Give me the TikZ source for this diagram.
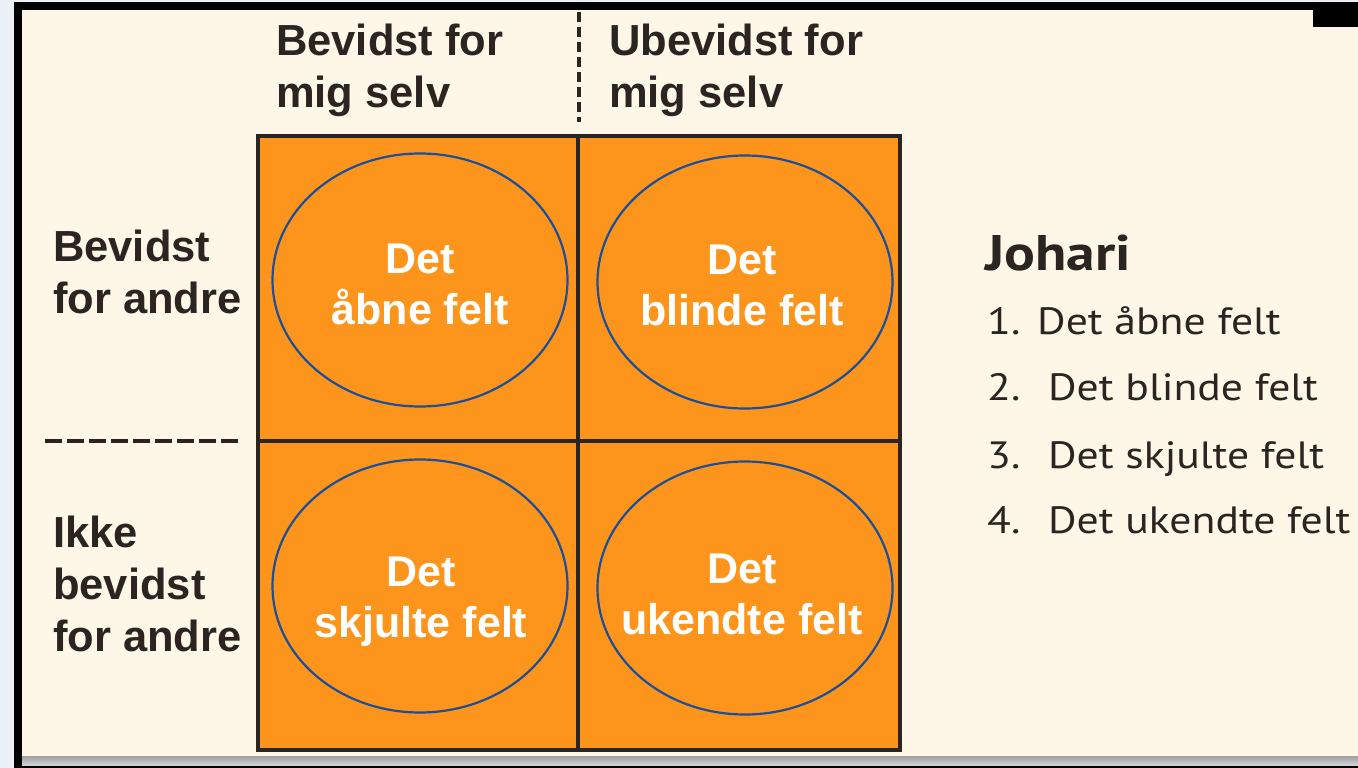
\documentclass[tikz,border=0pt]{standalone}
\usepackage{fontspec}
\setmainfont{Liberation Sans}
\newfontfamily\listfont[FakeStretch=1.15]{PT Sans}
\usetikzlibrary{positioning,shapes.geometric}
\definecolor{creme}{HTML}{FEF6E6}
\definecolor{felt}{HTML}{FD941C}
\definecolor{streg}{HTML}{2A2521}
\definecolor{ring}{HTML}{1D4F98}
\definecolor{kant}{HTML}{EAF0F5}

\begin{document}
\begin{tikzpicture}[x=1pt,y=-1pt,
	cell/.style={draw=streg, fill=felt, line width=4pt, rectangle, inner sep=0, outer sep=0},
	ring/.style={draw=ring, line width=2.2pt, ellipse, inner sep=0, minimum width=295pt, minimum height=253pt},
	felttekst/.style={text=white, align=center, text depth=0pt, font=\bfseries\fontsize{43}{51}\selectfont},
	overskrift/.style={text=streg, align=left, inner sep=0, font=\bfseries\fontsize{43.5}{52}\selectfont},
	liste/.style={text=streg, inner sep=0, font=\listfont\fontsize{38}{44}\selectfont}]
		% ramme
		\useasboundingbox (0,0) rectangle (1358,768);
		\fill[kant] (0,0) rectangle (1358,768);
		\fill[black] (14,2) rectangle (1358,768);
		\fill[black] (1313,2) rectangle (1358,27);
		\fill[creme] (22,10) rectangle (1313,756);
		\fill[creme] (1313,27) rectangle (1358,756);
		\shade[top color=gray!75, bottom color=gray!35] (22,756) rectangle (1358,765);
		
		% felter
		\node[cell, minimum width=320pt, minimum height=305pt] (aabnecelle) at (418,288.5) {};
		\node[cell, minimum width=322pt, minimum height=305pt, right=0pt of aabnecelle] (blindecelle) {};
		\node[cell, minimum width=320pt, minimum height=309pt, below=0pt of aabnecelle] (skjultecelle) {};
		\node[cell, minimum width=322pt, minimum height=309pt, right=0pt of skjultecelle] (ukendtecelle) {};
		
		\node[ring] (aabnering) at (420,280) {};
		\node[ring] (blindering) at (745,282) {};
		\node[ring] (skjultering) at (420,586) {};
		\node[ring] (ukendtering) at (745,588) {};
		
		\node[felttekst] (aabne) at (420,284) {Det\\åbne felt};
		\node[felttekst] (blinde) at (742,285) {Det\\blinde felt};
		\node[felttekst] (skjulte) at (421,597) {Det\\skjulte felt};
		\node[felttekst] (ukendte) at (742,594) {Det\\ukendte felt};
		
		% akser
		\node[overskrift, anchor=north west] (bevidstmig) at (276,24) {Bevidst for\\mig selv};
		\node[overskrift, anchor=north west] (ubevidstmig) at (609,24) {Ubevidst for\\mig selv};
		\node[overskrift, anchor=north west] (bevidstandre) at (53,230) {Bevidst\\for andre};
		\node[overskrift, anchor=north west] (ikkeandre) at (53,516) {Ikke\\bevidst\\for andre};
		
		\coordinate (lodretop) at (579,12);
		\coordinate (lodretbund) at (579,122);
		\coordinate (vandretvenstre) at (45,441);
		\coordinate (vandrethoejre) at (239,441);
		\draw[streg, line width=4pt, dash pattern=on 10pt off 5pt] (lodretop) -- (lodretbund);
		\draw[streg, line width=4pt, dash pattern=on 16.5pt off 5.5pt] (vandretvenstre) -- (vandrethoejre);
		
		% liste
		\node[liste, anchor=base west, font=\listfont\bfseries\fontsize{50}{56}\selectfont] (johari) at (985,270) {Johari};
		\node[liste, anchor=base west] (punkt1) at (987,334) {\makebox[50pt][l]{1.}Det åbne felt};
		\node[liste, anchor=base west] (punkt2) at (987,400) {\makebox[61pt][l]{2.}Det blinde felt};
		\node[liste, anchor=base west] (punkt3) at (987,468) {\makebox[61pt][l]{3.}Det skjulte felt};
		\node[liste, anchor=base west] (punkt4) at (987,533) {\makebox[61pt][l]{4.}Det ukendte felt};
\end{tikzpicture}
\end{document}
